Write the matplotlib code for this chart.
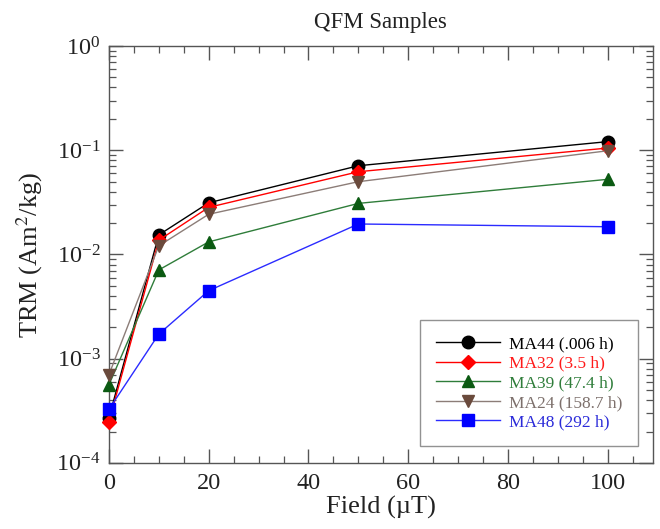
#!/usr/bin/env python3
"""TRM vs laboratory field for the QFM samples (log scale)."""

import matplotlib
matplotlib.use("Agg")
import matplotlib.pyplot as plt
from matplotlib.ticker import LogLocator, MultipleLocator, NullFormatter

plt.rcParams["font.family"] = ["Liberation Serif", "DejaVu Serif"]
plt.rcParams["mathtext.fontset"] = "stix"

FIELD = [0, 10, 20, 50, 100]

MA44 = [2.7e-4, 0.0154, 0.0313, 0.0710, 0.121]
MA32 = [2.48e-4, 0.0137, 0.0283, 0.0622, 0.105]
MA39 = [5.6e-4, 0.0071, 0.0132, 0.0309, 0.0526]
MA24 = [7.0e-4, 0.0121, 0.0243, 0.0499, 0.0989]
MA48 = [3.26e-4, 0.00172, 0.00449, 0.0196, 0.01845]

SERIES = [
    ("MA44 (.006 h)", MA44, "o", "#000000", "#000000", "#000000", 9),
    ("MA32 (3.5 h)", MA32, "D", "#ff0000", "#ff0000", "#ff1a1a", 7),
    ("MA39 (47.4 h)", MA39, "^", "#2f7d3a", "#0b5a12", "#2f7d3a", 9),
    ("MA24 (158.7 h)", MA24, "v", "#8c7d78", "#6a4a3c", "#7d706c", 9),
    ("MA48 (292 h)", MA48, "s", "#2b2bff", "#0000ff", "#2b2bd9", 8.5),
]

fig = plt.figure(figsize=(6.6, 5.29), dpi=100)
ax = fig.add_axes([0.165, 0.125, 0.824, 0.788])

for label, values, marker, line_c, mark_c, text_c, ms in SERIES:
    ax.plot(FIELD, values, color=line_c, linewidth=1.0, marker=marker,
            markersize=ms, markerfacecolor=mark_c, markeredgecolor=mark_c,
            label=label, clip_on=False, zorder=3)

ax.set_yscale("log")
ax.set_ylim(1e-4, 1)
ax.set_xlim(0, 109)

ax.xaxis.set_major_locator(MultipleLocator(20))
ax.xaxis.set_minor_locator(MultipleLocator(5))
ax.yaxis.set_major_locator(LogLocator(base=10, numticks=10))
ax.yaxis.set_minor_locator(LogLocator(base=10, subs=range(2, 10), numticks=10))
ax.yaxis.set_minor_formatter(NullFormatter())

for side in ax.spines.values():
    side.set_color("#555555")
    side.set_linewidth(1.0)
ax.tick_params(which="both", direction="in", top=True, right=True,
               colors="#555555", labelcolor="#222222")
ax.tick_params(which="major", length=10, width=1.0, labelsize=17.5)
ax.tick_params(which="minor", length=5, width=0.9)
ax.tick_params(axis="x", which="major", pad=7)
ax.tick_params(axis="y", which="major", pad=6)

ax.set_xlabel("Field (\u00b5T)", fontsize=19, color="#222222", labelpad=2)
ax.set_ylabel("TRM (Am$^2$/kg)", fontsize=19, color="#222222", labelpad=8)
ax.set_title("QFM Samples", fontsize=16.5, color="#222222", pad=13)

leg = ax.legend(loc="lower right", bbox_to_anchor=(0.972, 0.04), fontsize=12.5,
                frameon=True, fancybox=False, edgecolor="#777777",
                handlelength=3.7, labelspacing=0.2, borderpad=0.9,
                handletextpad=0.5, borderaxespad=0)
leg.get_frame().set_linewidth(1.0)
leg.set_zorder(5)
for text, series in zip(leg.get_texts(), SERIES):
    text.set_color(series[5])

fig.savefig("out.png", dpi=100)
